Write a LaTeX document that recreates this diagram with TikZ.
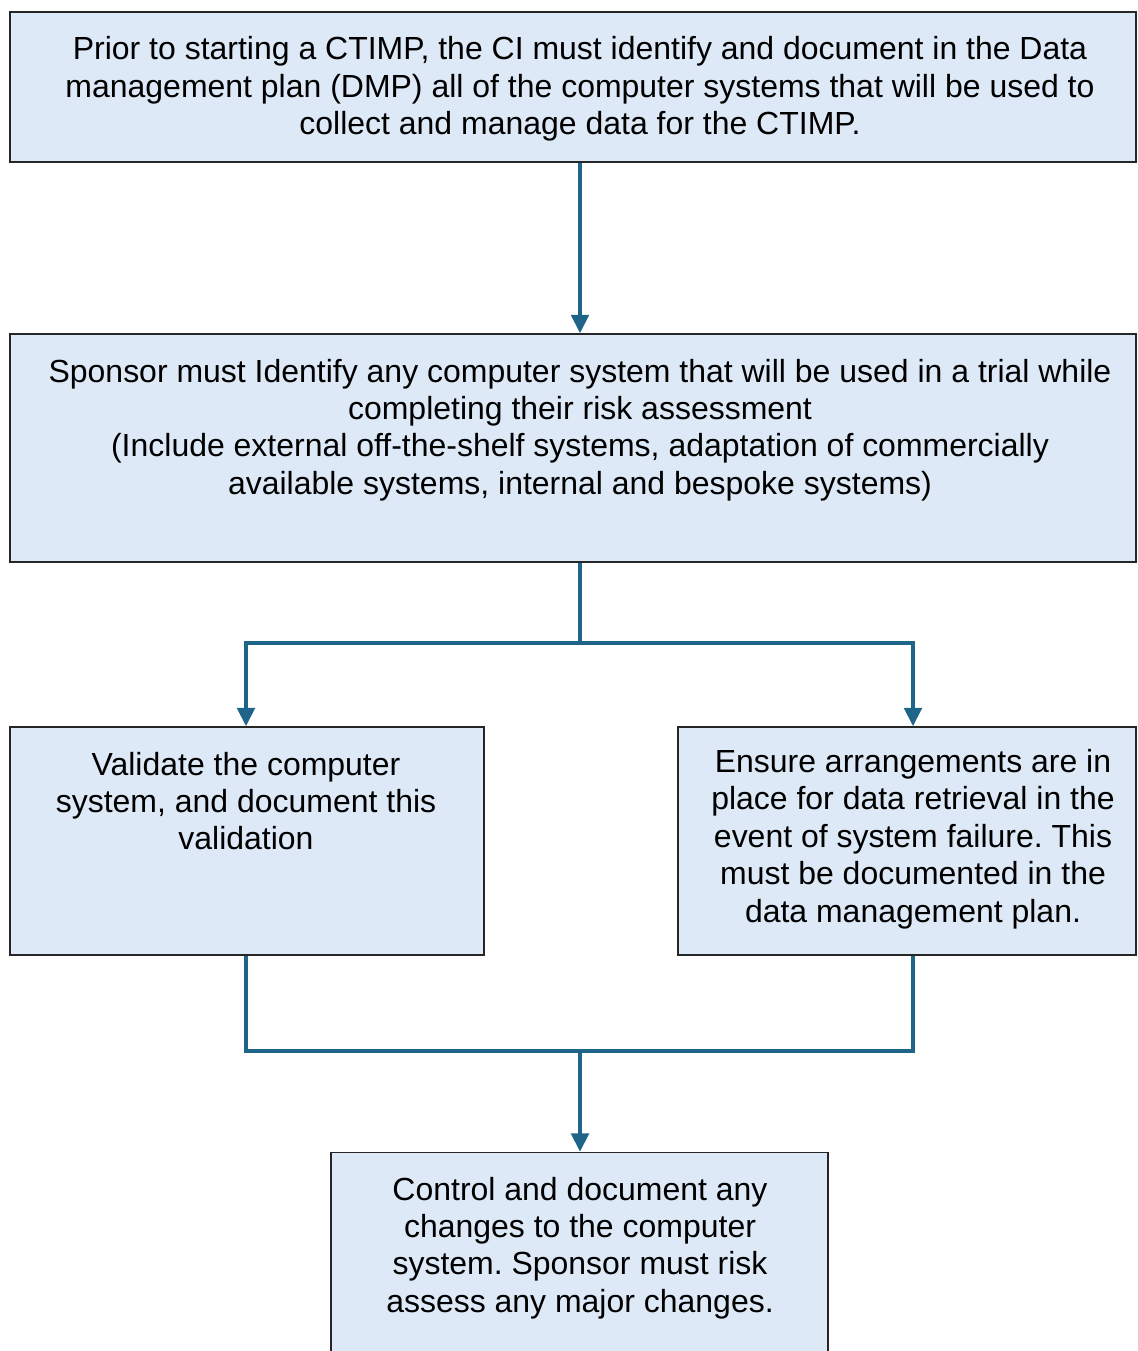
\documentclass[tikz,border=0pt]{standalone}
\usepackage{fontspec}
\setmainfont{Liberation Sans}
\usetikzlibrary{arrows.meta}
\definecolor{boxfill}{RGB}{221,233,246}
\definecolor{flowline}{RGB}{31,101,138}
\frenchspacing

\begin{document}
\begin{tikzpicture}[x=0.02cm,y=-0.02cm,
    flowbox/.style={draw=black!85,line width=0.9pt,fill=boxfill,inner sep=0pt},
    flowtext/.style={align=center,inner sep=0pt,font=\fontsize{18.2}{21.3}\selectfont},
    flow/.style={draw=flowline,line width=2.2pt},
    >={Triangle[width=10pt,length=10.5pt]}]
        \clip (0,0) rectangle (1138,1351);

        \node[flowbox,minimum width=22.52cm,minimum height=3cm] (plan) at (573,87) {};
        \node[flowtext] (plan-t) at (580,89) {Prior to starting a CTIMP, the CI must identify and document in the Data\\
            management plan (DMP) all of the computer systems that will be used to\\
            collect and manage data for the CTIMP.};

        \node[flowbox,minimum width=22.52cm,minimum height=4.56cm] (sponsor) at (573,448) {};
        \node[flowtext] (sponsor-t) at (580,430) {Sponsor must Identify any computer system that will be used in a trial while\\
            completing their risk assessment\\
            (Include external off-the-shelf systems, adaptation of commercially\\
            available systems, internal and bespoke systems)};

        \node[flowbox,minimum width=9.48cm,minimum height=4.56cm] (validate) at (247,841) {};
        \node[flowtext] (validate-t) at (246,801) {Validate the computer\\
            system, and document this\\
            validation};

        \node[flowbox,minimum width=9.16cm,minimum height=4.56cm] (ensure) at (907,841) {};
        \node[flowtext] (ensure-t) at (913,839) {Ensure arrangements are in\\
            place for data retrieval in the\\
            event of system failure. This\\
            must be documented in the\\
            data management plan.};

        \node[flowbox,minimum width=9.94cm,minimum height=4.54cm] (control) at (579.5,1266) {};
        \node[flowtext] (control-t) at (580,1248) {Control and document any\\
            changes to the computer\\
            system. Sponsor must risk\\
            assess any major changes.};

        \coordinate (split) at (580,643);
        \coordinate (merge) at (580,1051);

        \draw[flow,->] (plan-t |- plan.south) -- (plan-t |- sponsor.north);
        \draw[flow] (sponsor-t |- sponsor.south) -- (split);
        \draw[flow,->] (split) -| (validate-t |- validate.north);
        \draw[flow,->] (split) -| (ensure-t |- ensure.north);
        \draw[flow] (validate-t |- validate.south) |- (merge) -| (ensure-t |- ensure.south);
        \draw[flow,->] (merge) -- (control-t |- control.north);
\end{tikzpicture}
\end{document}
